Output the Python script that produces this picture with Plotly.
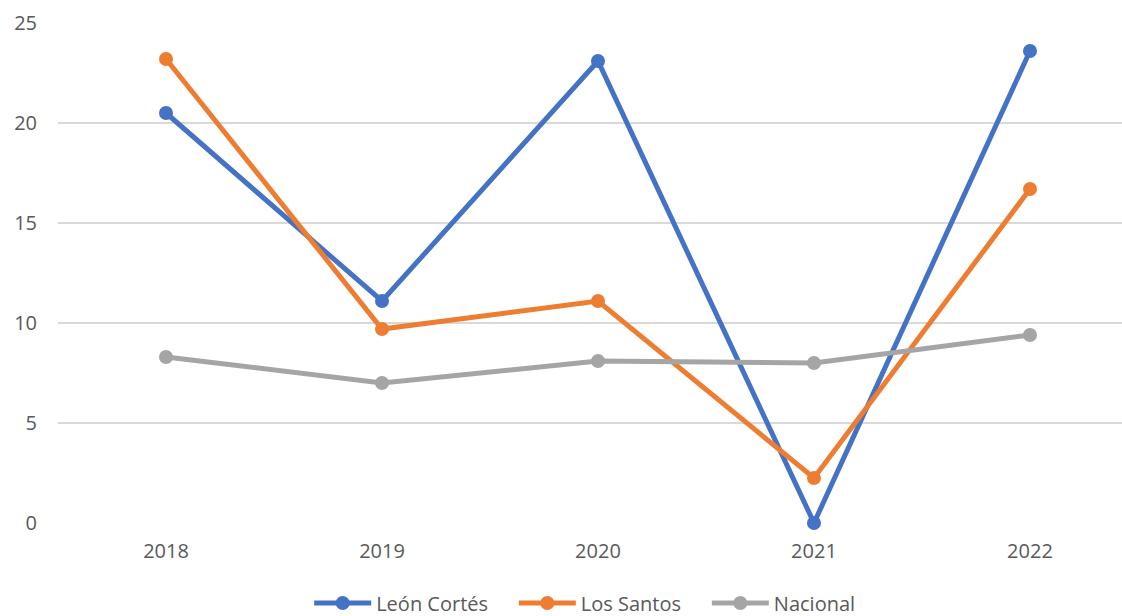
import plotly.graph_objects as go

years = ["2018", "2019", "2020", "2021", "2022"]
leon_cortes = [20.5, 11.1, 23.1, 0.0, 23.6]
los_santos = [23.2, 9.7, 11.1, 2.25, 16.7]
nacional = [8.3, 7.0, 8.1, 8.0, 9.4]

series = [
    ("León Cortés", leon_cortes, "#4472C4"),
    ("Los Santos", los_santos, "#ED7D31"),
    ("Nacional", nacional, "#A5A5A5"),
]

pad = "\u00a0" * 4  # extra room between legend entries

fig = go.Figure()
for i, (name, vals, color) in enumerate(series):
    fig.add_trace(go.Scatter(
        x=years, y=vals, name=name + (pad if i < len(series) - 1 else ""),
        mode="lines+markers",
        line=dict(color=color, width=5),
        marker=dict(color=color, size=14),
        cliponaxis=False,
    ))

fig.update_layout(
    width=1122, height=616,
    margin=dict(l=58, r=0, t=23, b=93, autoexpand=False),
    plot_bgcolor="white", paper_bgcolor="white",
    font=dict(family="Open Sans, Liberation Sans, sans-serif", color="#595959", size=20),
    showlegend=True,
    legend=dict(orientation="h", x=0.495, xanchor="center", y=-0.16, yanchor="middle",
                font=dict(size=20), itemwidth=57, tracegroupgap=0),
    xaxis=dict(type="category", range=[-0.5, 4.426], showgrid=False, zeroline=False,
               showline=False, ticks="", ticklabelstandoff=14, automargin=False),
    yaxis=dict(range=[0, 25], dtick=5, showgrid=True, gridcolor="#D9D9D9", gridwidth=1.5,
               zeroline=False, showline=False, ticks="", ticklabelstandoff=20,
               automargin=False),
)

# drop the browser's default body margin so the figure fills the window
fig.write_html("out.html", config={"displayModeBar": False},
               post_script="document.body.style.margin='0';")
